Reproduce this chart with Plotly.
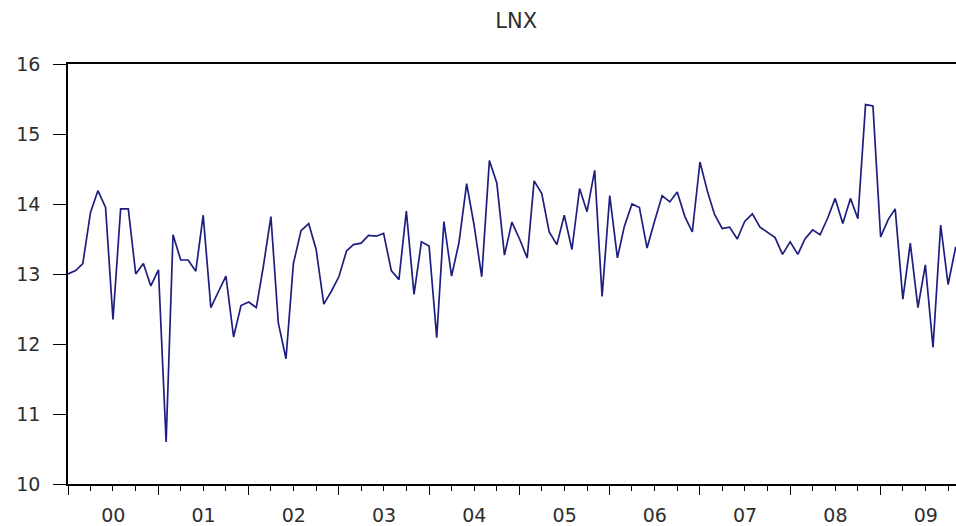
import pandas as pd
import plotly.graph_objects as go

# Monthly LNX values, 2000-01 onward
lnx = [
    13.00, 13.05, 13.15, 13.88, 14.19, 13.95, 12.35, 13.93, 13.93, 13.00, 13.15, 12.83,  # 2000
    13.06, 10.60, 13.56, 13.20, 13.20, 13.04, 13.84, 12.52, 12.75, 12.97, 12.10, 12.55,  # 2001
    12.60, 12.52, 13.10, 13.82, 12.30, 11.79, 13.15, 13.62, 13.72, 13.35, 12.57, 12.75,  # 2002
    12.96, 13.33, 13.42, 13.44, 13.55, 13.54, 13.58, 13.05, 12.92, 13.90, 12.71, 13.46,  # 2003
    13.40, 12.09, 13.75, 12.97, 13.45, 14.29, 13.70, 12.96, 14.62, 14.30, 13.27, 13.74,  # 2004
    13.50, 13.23, 14.33, 14.15, 13.60, 13.42, 13.84, 13.35, 14.22, 13.89, 14.48, 12.68,  # 2005
    14.12, 13.23, 13.68, 14.00, 13.95, 13.37, 13.75, 14.12, 14.03, 14.17, 13.82, 13.60,  # 2006
    14.60, 14.17, 13.85, 13.65, 13.67, 13.50, 13.75, 13.86, 13.67, 13.60, 13.52, 13.28,  # 2007
    13.46, 13.28, 13.50, 13.63, 13.56, 13.80, 14.08, 13.72, 14.08, 13.79, 15.42, 15.40,  # 2008
    13.53, 13.78, 13.93, 12.64, 13.44, 12.52, 13.13, 11.95, 13.70, 12.85, 13.39,         # 2009
]
dates = pd.date_range("2000-01-01", periods=len(lnx), freq="MS")

title_text = "LNX"
y_ticks = [10, 11, 12, 13, 14, 15, 16]

fig = go.Figure()
fig.add_trace(go.Scatter(
    x=dates, y=lnx, mode="lines",
    line=dict(color="#1e1e80", width=1.7),
    showlegend=False, hoverinfo="skip",
))

font_family = "DejaVu Sans"
text_color = "#2e2e2e"
fig.update_layout(
    width=956, height=526,
    margin=dict(l=68, r=0, t=64, b=38),
    paper_bgcolor="white", plot_bgcolor="white",
    title=dict(text=title_text, x=0.54, xanchor="center", y=1 - 21 / 526, yref="container",
               yanchor="middle", font=dict(family=font_family, size=21, color=text_color)),
    font=dict(family=font_family, size=19, color=text_color),
)
fig.update_xaxes(
    type="date",
    range=["2000-01-01", "2009-11-02"],
    tick0="2000-01-01", dtick="M12", tickformat="%y", ticklabelmode="period",
    ticks="outside", ticklen=9, tickwidth=1.3, tickcolor="black",
    minor=dict(dtick="M3", tick0="2000-01-01", ticks="outside", ticklen=5,
               tickwidth=1.3, tickcolor="black", showgrid=False),
    showline=True, linecolor="black", linewidth=1.6, mirror=True,
    showgrid=False, zeroline=False, ticklabelstandoff=4,
    tickfont=dict(family=font_family, size=19, color=text_color),
)
fig.update_yaxes(
    range=[10, 16], tickvals=y_ticks,
    ticks="outside", ticklen=13, tickwidth=1.3, tickcolor="black",
    showline=True, linecolor="black", linewidth=1.6, mirror=False,
    showgrid=False, zeroline=False, ticklabelstandoff=9,
    tickfont=dict(family=font_family, size=19, color=text_color),
)

fig.write_html("out.html")
